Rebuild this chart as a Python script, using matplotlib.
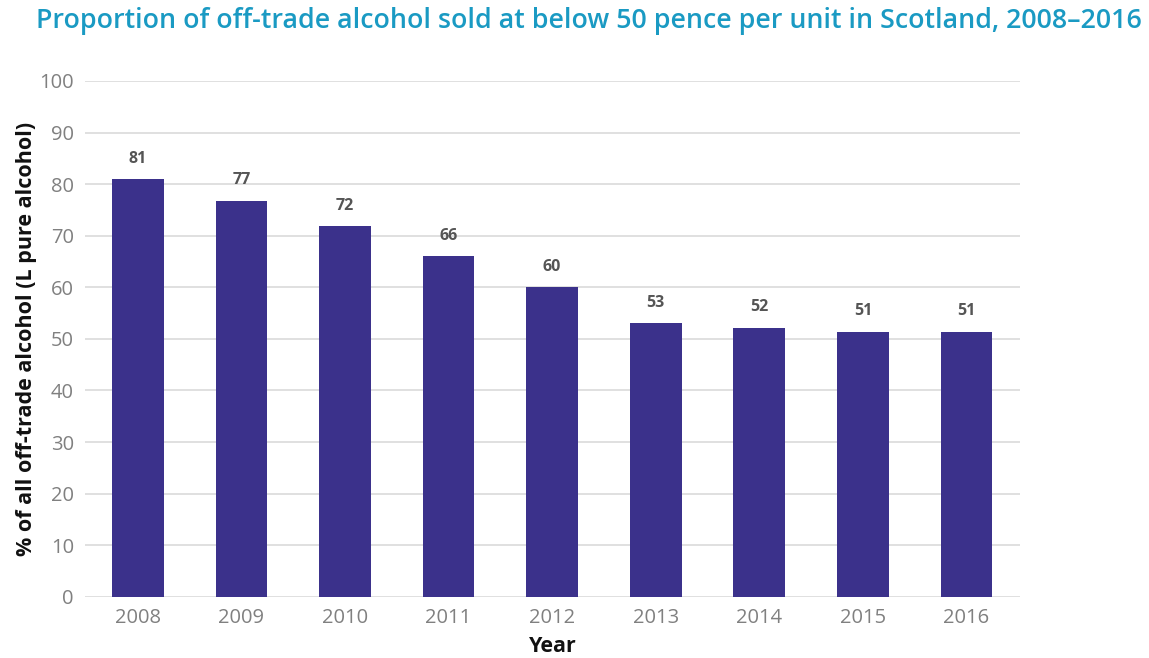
import numpy as np
import matplotlib.pyplot as plt

years = ['2008', '2009', '2010', '2011', '2012', '2013', '2014', '2015', '2016']
share = [81.0, 76.8, 71.8, 66.0, 60.0, 53.0, 52.2, 51.4, 51.4]
yticks = [0, 10, 20, 30, 40, 50, 60, 70, 80, 90, 100]

bar_col = '#3b318b'
grid_col = '#e0e0e0'
tick_col = '#808080'

fig = plt.figure(figsize=(11.49, 6.58), dpi=100)
ax = fig.add_axes([0.074, 0.093, 0.814, 0.784])

x = np.arange(len(years))
ax.bar(x, share, width=0.5, color=bar_col, zorder=3)
for xi, v in zip(x, share):
    ax.text(xi, v + 2.4, f'{round(v):d}', ha='center', va='bottom',
            fontsize=11.5, fontweight='bold', color='#555555', family='Open Sans')

ax.set_ylim(0, 100)
ax.set_xlim(-0.51, len(years) - 0.48)
ax.set_yticks(yticks)
ax.set_xticks(x)
ax.set_xticklabels(years)
ax.grid(axis='y', color=grid_col, lw=1.4, zorder=0)
for s in ax.spines.values():
    s.set_visible(False)
ax.tick_params(length=0, labelsize=14.5, colors=tick_col, pad=8)
for lab in ax.get_xticklabels() + ax.get_yticklabels():
    lab.set_family('Open Sans')

ax.set_ylabel('% of all off-trade alcohol (L pure alcohol)', fontsize=15.5,
              fontweight='bold', family='Open Sans', color='#111111', labelpad=2)
ax.set_xlabel('Year', fontsize=15.5, fontweight='bold', family='Open Sans',
              color='#111111', labelpad=6)

fig.text(0.031, 0.968, 'Proportion of off-trade alcohol sold at below 50 pence per unit in Scotland, 2008\u20132016',
         ha='left', va='center', fontsize=19.3, fontweight='semibold',
         family='Open Sans', color='#1a9ac3')

fig.savefig('out.png', dpi=100)
